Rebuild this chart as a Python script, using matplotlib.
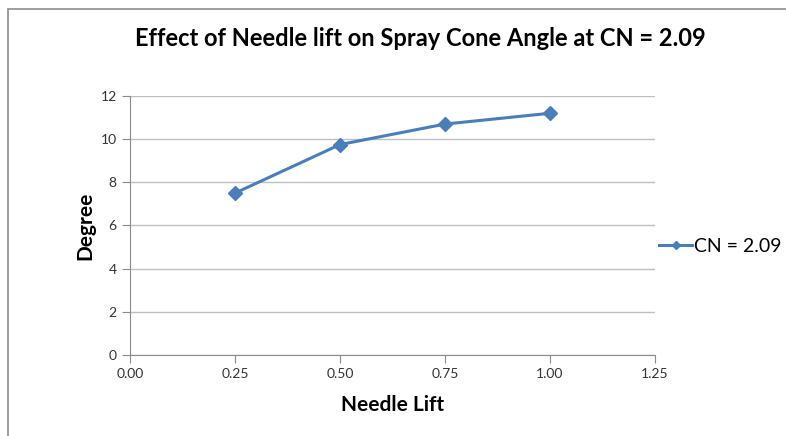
import matplotlib
matplotlib.use("Agg")
import matplotlib.pyplot as plt
from matplotlib.patches import Rectangle

# data
needle_lift = [0.25, 0.50, 0.75, 1.00]
cone_angle = [7.5, 9.75, 10.7, 11.2]
series_label = "CN = 2.09"

plt.rcParams["font.family"] = ["Lato", "DejaVu Sans"]

fig = plt.figure(figsize=(7.86, 4.36), dpi=100)
ax = fig.add_axes([130/786, 1-355/436, 525/786, 259/436])

# outer chart border (left/top visible)
fig.patches.append(Rectangle((8/786, -0.1), 1.2, 1 - 9/436 + 0.1, transform=fig.transFigure,
                             fill=False, edgecolor="#8c8c8c", linewidth=1.2))

ax.plot(needle_lift, cone_angle, color="#4a7ebb", linewidth=2.2, marker="D",
        markersize=7, label=series_label)

ax.set_xlim(0, 1.25)
ax.set_ylim(0, 12)
ax.set_xticks([0, 0.25, 0.5, 0.75, 1.0, 1.25])
ax.set_xticklabels([f"{v:.2f}" for v in [0, 0.25, 0.5, 0.75, 1.0, 1.25]])
ax.set_yticks(range(0, 13, 2))
ax.yaxis.grid(True, color="#bfbfbf", linewidth=1)
ax.set_axisbelow(True)
for s in ["top", "right"]:
    ax.spines[s].set_visible(False)
for s in ["left", "bottom"]:
    ax.spines[s].set_color("#8c8c8c")
ax.tick_params(colors="#8c8c8c", labelcolor="#333333", labelsize=10, length=6, direction="out")

ax.set_xlabel("Needle Lift", fontsize=15, fontweight="bold", labelpad=11)
ax.set_ylabel("Degree", fontsize=15, fontweight="bold", labelpad=4)
fig.text(420/786, 1-38/436, "Effect of Needle lift on Spray Cone Angle at CN = 2.09",
         ha="center", va="center", fontsize=17, fontweight="bold")

ax.legend(loc="center left", bbox_to_anchor=(659/786, 1-246/436), bbox_transform=fig.transFigure,
          frameon=False, fontsize=14, handlelength=1.7, handletextpad=0.1, borderpad=0,
          borderaxespad=0, markerscale=0.6)

fig.savefig("out.png", dpi=100)
